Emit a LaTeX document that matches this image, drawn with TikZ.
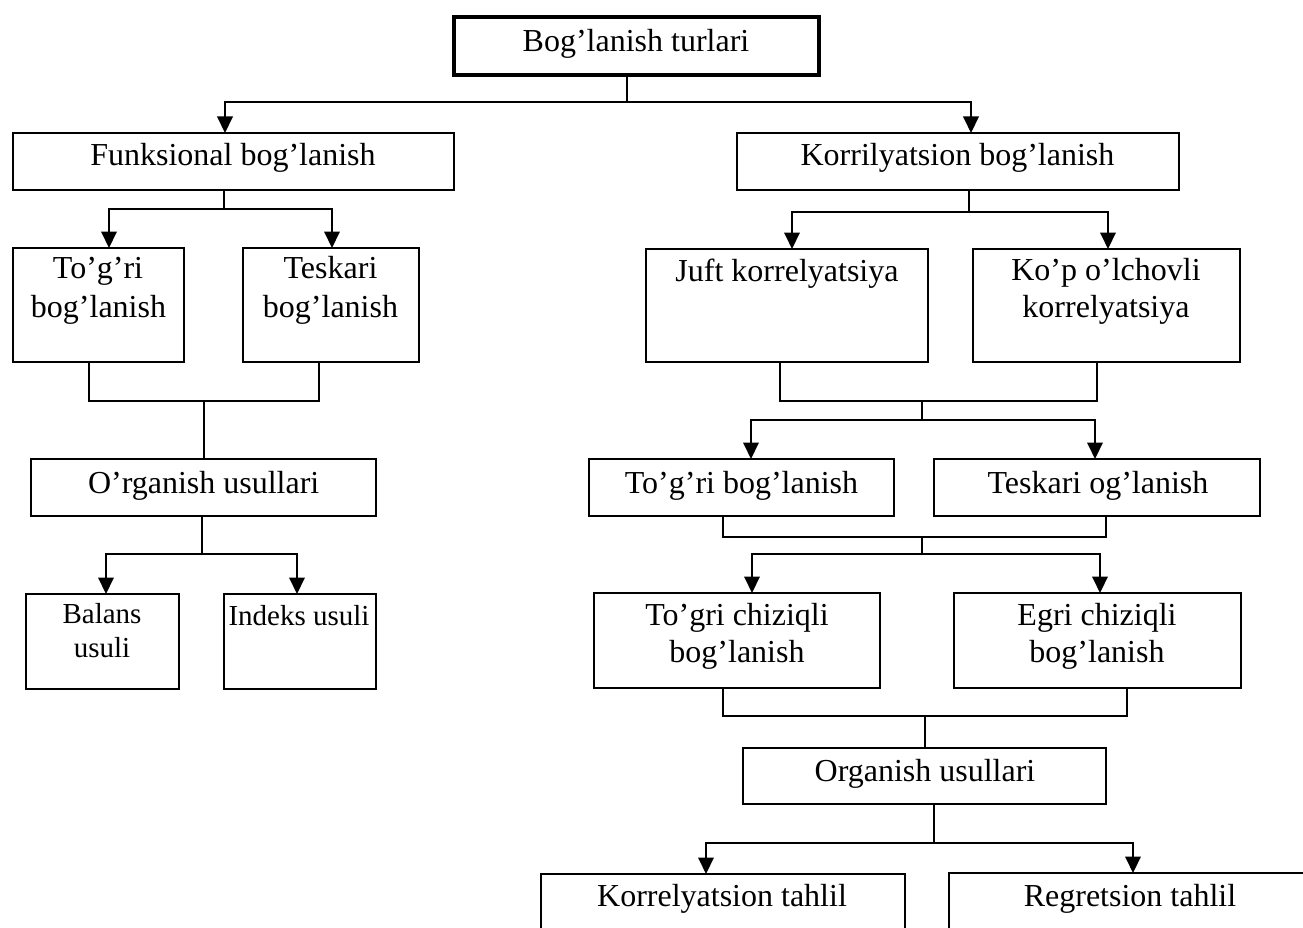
\documentclass[tikz,border=0pt]{standalone}
\usepackage{fontspec}
\setmainfont{Liberation Serif}
\usetikzlibrary{arrows.meta}
\begin{document}
\begin{tikzpicture}[x=1pt,y=-1pt,
  box/.style={draw,line width=2pt,rectangle,inner sep=0pt,outer sep=0pt},
  lbl/.style={anchor=base,inner sep=0pt,font=\fontsize{32}{39}\selectfont},
  sml/.style={anchor=base,inner sep=0pt,font=\fontsize{29}{34}\selectfont},
  ln/.style={line width=2pt},
  arr/.style={line width=2pt,-{Triangle[length=16.5pt,width=15.5pt]}}]
\useasboundingbox (0,0) rectangle (1303,928);
\clip (0,0) rectangle (1303,928);
% boxes
\node[box,line width=4pt,minimum width=365pt,minimum height=58pt] (top) at (636.5,46) {};
\node[box,minimum width=441pt,minimum height=57pt] (func) at (233.5,161.5) {};
\node[box,minimum width=442pt,minimum height=57pt] (korr) at (958,161.5) {};
\node[box,minimum width=171pt,minimum height=114pt] (t1) at (98.5,305) {};
\node[box,minimum width=176pt,minimum height=114pt] (te1) at (331,305) {};
\node[box,minimum width=345pt,minimum height=57pt] (o1) at (203.5,487.5) {};
\node[box,minimum width=153pt,minimum height=95pt] (bal) at (102.5,641.5) {};
\node[box,minimum width=152pt,minimum height=95pt] (ind) at (300,641.5) {};
\node[box,minimum width=282pt,minimum height=113pt] (juft) at (787,305.5) {};
\node[box,minimum width=267pt,minimum height=113pt] (kop) at (1106.5,305.5) {};
\node[box,minimum width=305pt,minimum height=57pt] (t2) at (741.5,487.5) {};
\node[box,minimum width=326pt,minimum height=57pt] (te2) at (1097,487.5) {};
\node[box,minimum width=286pt,minimum height=95pt] (tc) at (737,640.5) {};
\node[box,minimum width=287pt,minimum height=95pt] (eg) at (1097.5,640.5) {};
\node[box,minimum width=363pt,minimum height=56pt] (o2) at (924.5,776) {};
\node[box,anchor=north,minimum width=364pt,minimum height=100pt] (kt) at (723,874) {};
\node[box,anchor=north,minimum width=380pt,minimum height=100pt] (rg) at (1139,873) {};
% texts
\node[lbl] at (636,52) {Bog’lanish turlari};
\node[lbl] at (233,166) {Funksional bog’lanish};
\node[lbl] at (957.5,166) {Korrilyatsion bog’lanish};
\node[lbl] at (98,278) {To’g’ri};
\node[lbl] at (98.5,317) {bog’lanish};
\node[lbl] at (330.5,278) {Teskari};
\node[lbl] at (330.5,317) {bog’lanish};
\node[lbl] at (203.7,493) {O’rganish usullari};
\node[sml] at (102,623) {Balans};
\node[sml] at (102,657) {usuli};
\node[sml] at (299,625) {Indeks usuli};
\node[lbl] at (787,281) {Juft korrelyatsiya};
\node[lbl] at (1106,280) {Ko’p o’lchovli};
\node[lbl] at (1106,317) {korrelyatsiya};
\node[lbl] at (741.5,493) {To’g’ri bog’lanish};
\node[lbl] at (1098,493) {Teskari og’lanish};
\node[lbl] at (737,625) {To’gri chiziqli};
\node[lbl] at (737,662) {bog’lanish};
\node[lbl] at (1097,625) {Egri chiziqli};
\node[lbl] at (1097,662) {bog’lanish};
\node[lbl] at (925,781) {Organish usullari};
\node[lbl] at (722,906) {Korrelyatsion tahlil};
\node[lbl] at (1130,906) {Regretsion tahlil};
% junctions
\coordinate (j1) at (627,102);
\coordinate (j2) at (224,209);
\coordinate (j3) at (204,401);
\coordinate (j4) at (202,554);
\coordinate (j5) at (969,212);
\coordinate (j6) at (922,401);
\coordinate (j7) at (922,420);
\coordinate (j8) at (922,537);
\coordinate (j9) at (922,554);
\coordinate (j10) at (925,716);
\coordinate (j11) at (934,843);
% connectors
\draw[ln] (top.south -| j1) -- (j1);
\draw[arr] (j1) -| (func.north -| 225,0);
\draw[arr] (j1) -| (korr.north -| 971,0);
\draw[ln] (func.south -| j2) -- (j2);
\draw[arr] (j2) -| (t1.north -| 109,0);
\draw[arr] (j2) -| (te1.north -| 332,0);
\draw[ln] (t1.south -| 89,0) |- (j3) -| (te1.south -| 319,0);
\draw[ln] (j3) -- (o1.north -| j3);
\draw[ln] (o1.south -| j4) -- (j4);
\draw[arr] (j4) -| (bal.north -| 106,0);
\draw[arr] (j4) -| (ind.north -| 297,0);
\draw[ln] (korr.south -| j5) -- (j5);
\draw[arr] (j5) -| (juft.north -| 792,0);
\draw[arr] (j5) -| (kop.north -| 1108,0);
\draw[ln] (juft.south -| 780,0) |- (j6) -| (kop.south -| 1097,0);
\draw[ln] (j6) -- (j7);
\draw[arr] (j7) -| (t2.north -| 751,0);
\draw[arr] (j7) -| (te2.north -| 1095,0);
\draw[ln] (t2.south -| 723,0) |- (j8) -| (te2.south -| 1106,0);
\draw[ln] (j8) -- (j9);
\draw[arr] (j9) -| (tc.north -| 752,0);
\draw[arr] (j9) -| (eg.north -| 1100,0);
\draw[ln] (tc.south -| 723,0) |- (j10) -| (eg.south -| 1127,0);
\draw[ln] (j10) -- (o2.north -| j10);
\draw[ln] (o2.south -| j11) -- (j11);
\draw[arr] (j11) -| (kt.north -| 706,0);
\draw[arr] (j11) -| (rg.north -| 1133,0);
\end{tikzpicture}
\end{document}
